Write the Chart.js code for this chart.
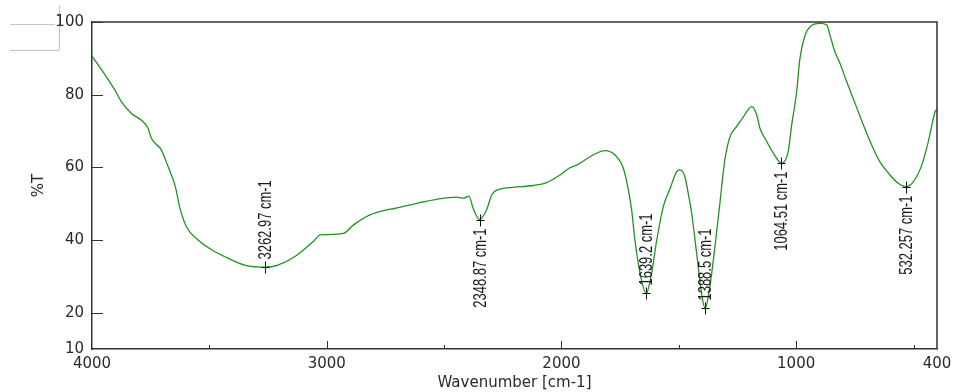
<!DOCTYPE html>
<html>
<head>
<meta charset="utf-8">
<script src="https://cdn.jsdelivr.net/npm/chart.js@4.4.1/dist/chart.umd.min.js"></script>
<style>
  html, body { margin: 0; padding: 0; background: #ffffff; }
  #wrap { width: 955px; height: 392px; position: relative; }
</style>
</head>
<body>
<div id="wrap"><canvas id="c" width="955" height="392"></canvas></div>
<script>
// ---- data ----
const wavenumber = [4000, 3953, 3903, 3875, 3833, 3783, 3761, 3747, 3705, 3676, 3645, 3627, 3598, 3548, 3492, 3421, 3350, 3263, 3208, 3137, 3051, 3029, 3002, 2929, 2887, 2816, 2744, 2716, 2603, 2532, 2447, 2418, 2394, 2376, 2349, 2319, 2297, 2262, 2205, 2120, 2063, 2006, 1964, 1935, 1865, 1815, 1772, 1736, 1715, 1701, 1687, 1665, 1639, 1616, 1594, 1566, 1537, 1509, 1495, 1474, 1460, 1445, 1424, 1403, 1388, 1368, 1346, 1325, 1304, 1282, 1254, 1225, 1189, 1168, 1154, 1133, 1097, 1062, 1034, 1019, 998, 984, 962, 941, 898, 870, 856, 835, 813, 785, 749, 714, 678, 643, 600, 565, 533, 501, 465, 437, 408, 400];
const transmittance = [90.6, 86.3, 81.3, 78.1, 74.9, 72.6, 70.7, 68.0, 64.8, 60.2, 54.7, 49.2, 43.7, 40.0, 37.4, 35.0, 33.1, 32.5, 33.1, 35.4, 40.0, 41.4, 41.5, 41.8, 44.1, 46.9, 48.3, 48.6, 50.3, 51.2, 51.8, 51.5, 52.1, 48.7, 45.6, 48.3, 52.4, 54.0, 54.5, 55.0, 55.8, 57.9, 59.9, 60.6, 63.4, 64.6, 63.4, 59.7, 53.8, 48.3, 40.0, 30.8, 25.3, 30.8, 40.0, 49.2, 54.2, 58.8, 59.3, 57.4, 52.9, 47.3, 36.3, 25.3, 21.2, 27.1, 38.2, 50.1, 62.0, 68.4, 71.2, 73.9, 76.7, 74.4, 70.7, 68.0, 63.9, 61.1, 64.3, 71.7, 80.8, 90.0, 96.4, 98.7, 99.6, 99.2, 96.4, 91.8, 88.6, 83.6, 77.6, 71.7, 66.1, 61.5, 57.9, 55.6, 54.7, 56.0, 60.6, 67.1, 75.3, 76.0];

const peakWavenumber = [3262.97, 2348.87, 1639.2, 1388.5, 1064.51, 532.257];
const peakTransmittance = [32.5, 45.6, 25.3, 21.2, 61.1, 54.7];
const peakLabels = ["3262.97 cm-1", "2348.87 cm-1", "1639.2 cm-1", "1388.5 cm-1", "1064.51 cm-1", "532.257 cm-1"];
const peakLabelSide = ["above", "below", "above", "above", "below", "below"];

const xTickValues = [400, 500, 1000, 1500, 2000, 2500, 3000, 3500, 4000];
const xLabelValues = [400, 1000, 2000, 3000, 4000];
const yTickValues = [10, 20, 40, 60, 80, 100];

const xTitle = "Wavenumber [cm-1]";
const yTitle = "%T";

// ---- chart ----
const AXIS = '#333333';
const TEXT = '#2a2a2a';
const FONT = "'DejaVu Sans', sans-serif";
const PEAK_FONT = "18px 'Liberation Sans', Arial, sans-serif";
const PEAK_SQUEEZE = 0.72;

const spectrum = wavenumber.map((w, i) => ({ x: w, y: transmittance[i] }));

const framePlugin = {
  id: 'frame',
  beforeDraw(chart) {
    const ctx = chart.ctx;
    ctx.save();
    ctx.strokeStyle = '#c9c5bb';
    ctx.lineWidth = 1;
    ctx.beginPath();
    ctx.moveTo(10, 24.5); ctx.lineTo(55, 24.5);
    ctx.moveTo(59.5, 5); ctx.lineTo(59.5, 50);
    ctx.moveTo(10, 50.5); ctx.lineTo(59.5, 50.5);
    ctx.stroke();
    ctx.restore();
  },
  afterDraw(chart) {
    const ctx = chart.ctx, ca = chart.chartArea;
    const xs = chart.scales.x, ys = chart.scales.y;
    ctx.save();
    ctx.strokeStyle = AXIS;
    // top & right frame
    ctx.lineWidth = 1.5;
    ctx.beginPath();
    ctx.moveTo(ca.left, ca.top); ctx.lineTo(ca.right, ca.top); ctx.lineTo(ca.right, ca.bottom);
    ctx.stroke();
    // inward ticks
    ctx.lineWidth = 1;
    ctx.beginPath();
    xs.ticks.forEach(t => {
      if (t.value === 400 || t.value === 4000) return;
      const p = Math.round(xs.getPixelForValue(t.value)) + 0.5;
      const len = (t.value % 1000 === 0) ? 8 : 4;
      ctx.moveTo(p, ca.bottom); ctx.lineTo(p, ca.bottom - len);
    });
    ys.ticks.forEach(t => {
      if (t.value === 10) return;
      const p = Math.round(ys.getPixelForValue(t.value)) + 0.5;
      ctx.moveTo(ca.left, p); ctx.lineTo(ca.left + 11, p);
    });
    ctx.stroke();
    // peak markers & labels
    ctx.strokeStyle = '#111';
    ctx.fillStyle = '#1a1a1a';
    ctx.font = PEAK_FONT;
    ctx.textBaseline = 'middle';
    peakWavenumber.forEach((w, i) => {
      const px = Math.round(xs.getPixelForValue(w)) + 0.5;
      const py = Math.round(ys.getPixelForValue(peakTransmittance[i])) + 0.5;
      ctx.beginPath();
      ctx.moveTo(px - 4, py); ctx.lineTo(px + 4, py);
      ctx.moveTo(px, py - 6); ctx.lineTo(px, py + 6);
      ctx.stroke();
      ctx.save();
      ctx.translate(px + 1, py);
      ctx.rotate(-Math.PI / 2);
      ctx.scale(PEAK_SQUEEZE, 1);
      if (peakLabelSide[i] === 'above') {
        ctx.textAlign = 'left';
        ctx.fillText(peakLabels[i], 8 / PEAK_SQUEEZE, 0);
      } else {
        ctx.textAlign = 'right';
        ctx.fillText(peakLabels[i], -8 / PEAK_SQUEEZE, 0);
      }
      ctx.restore();
    });
    ctx.restore();
  }
};

new Chart(document.getElementById('c'), {
  type: 'scatter',
  data: {
    datasets: [{
      data: spectrum,
      showLine: true,
      borderColor: 'rgb(34,146,34)',
      borderWidth: 1.3,
      pointRadius: 0,
      cubicInterpolationMode: 'monotone',
      fill: false
    }]
  },
  options: {
    responsive: false,
    animation: false,
    events: [],
    layout: { padding: { top: 22, right: 18, left: 0, bottom: 0 } },
    plugins: { legend: { display: false }, tooltip: { enabled: false } },
    scales: {
      x: {
        type: 'linear',
        reverse: true,
        min: 400,
        max: 4000,
        grid: { display: false, drawTicks: false },
        border: { display: true, color: AXIS, width: 1.5 },
        afterBuildTicks(scale) { scale.ticks = xTickValues.map(v => ({ value: v })); },
        afterFit(scale) { scale.height = 43; },
        ticks: {
          autoSkip: false,
          maxRotation: 0,
          padding: 6,
          color: TEXT,
          font: { family: FONT, size: 15 },
          callback: v => xLabelValues.includes(v) ? String(v) : ''
        },
        title: {
          display: true,
          text: xTitle,
          color: TEXT,
          font: { family: FONT, size: 15 },
          padding: { top: 0, bottom: 0 }
        }
      },
      y: {
        type: 'linear',
        min: 10,
        max: 100,
        grid: { display: false, drawTicks: false },
        border: { display: true, color: AXIS, width: 1.5 },
        afterBuildTicks(scale) { scale.ticks = yTickValues.map(v => ({ value: v })); },
        afterFit(scale) { scale.width = 92; },
        ticks: {
          autoSkip: false,
          padding: 8,
          color: TEXT,
          font: { family: FONT, size: 15 },
          callback: v => String(v)
        },
        title: {
          display: true,
          text: yTitle,
          color: TEXT,
          font: { family: FONT, size: 15 },
          padding: { top: 30, bottom: 0 }
        }
      }
    }
  },
  plugins: [framePlugin]
});
</script>
</body>
</html>
